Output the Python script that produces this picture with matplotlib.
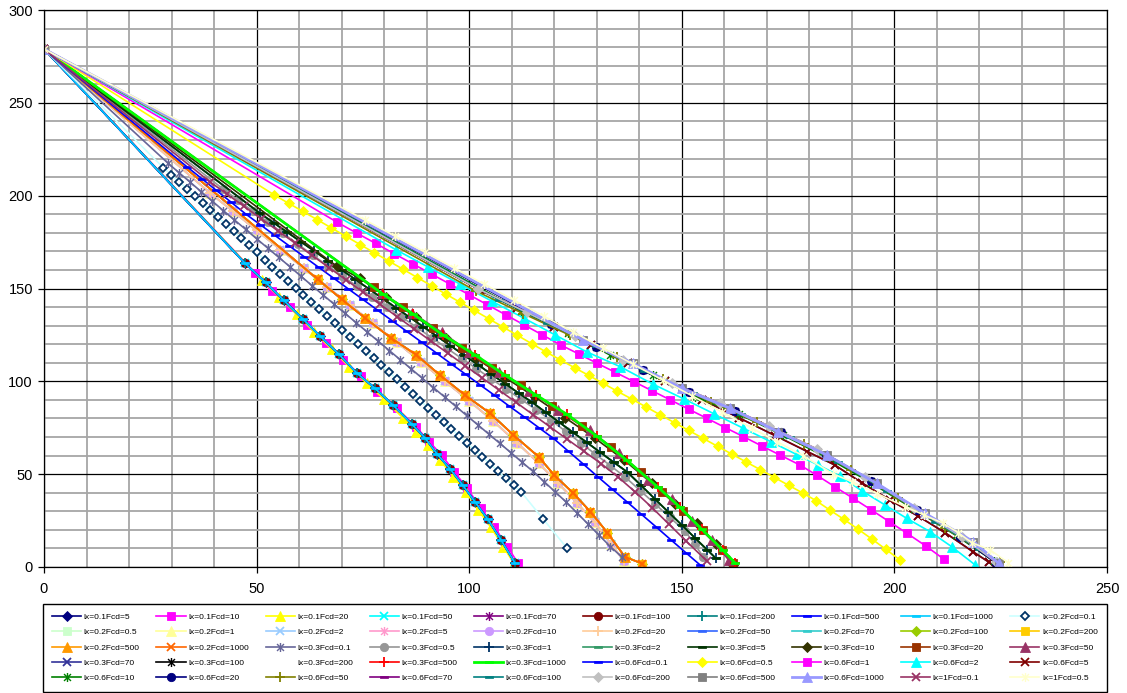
import matplotlib
matplotlib.use("Agg")
import matplotlib.pyplot as plt
from matplotlib.path import Path
from matplotlib.ticker import MultipleLocator

plt.rcParams['font.family'] = ['Liberation Sans', 'DejaVu Sans']

# ---- point chains (x, y) ----
# lx=0.1 family, all end near x=111
lx01_x = [0, 47.3, 52.1, 56.4, 60.8, 65.0, 69.4, 73.5, 77.8, 82.1, 86.5, 89.6, 92.4, 95.5, 98.5, 101.4, 104.4, 107.5, 110.8]
lx01_y = [279, 163.5, 153.3, 143.6, 133.8, 124.2, 114.5, 104.6, 96.3, 87.2, 77.0, 69.5, 61.0, 52.8, 44.0, 35.0, 25.6, 14.5, 2.0]
lx01sq_x = [0, 49.6, 53.6, 57.9, 61.9, 66.3, 70.4, 74.6, 78.4, 83.0, 87.5, 90.6, 93.5, 96.5, 99.5, 102.8, 105.9, 109.0, 111.5]
lx01sq_y = [279, 158.5, 148.8, 139.8, 130.3, 120.5, 111.5, 103.0, 94.0, 85.5, 75.5, 67.5, 60.3, 51.3, 42.4, 31.6, 21.7, 10.9, 2.0]
lx01tr_x = [0, 51.2, 55.3, 59.4, 63.5, 67.7, 71.8, 75.9, 80.0, 84.5, 87.6, 90.4, 93.1, 96.3, 99.2, 102.1, 105.1, 108.0, 110.5]
lx01tr_y = [279, 154.5, 145.6, 136.1, 126.7, 117.2, 107.9, 98.9, 90.3, 80.1, 72.9, 65.7, 57.6, 48.6, 40.5, 30.7, 21.4, 11.0, 2.0]

# lx=0.2 Fcd=0.1 (open diamonds)
lx02a_x = [0, 28.1, 29.9, 31.8, 33.6, 35.4, 37.3, 39.1, 40.9, 42.7, 44.6, 46.4, 48.2, 50.1, 51.9, 53.7, 55.6,
           57.4, 59.2, 61.0, 62.9, 64.7, 66.5, 68.4, 70.2, 72.0, 73.9, 75.7, 77.5, 79.3, 81.2, 83.0, 84.8,
           86.7, 88.5, 90.3, 92.2, 94.0, 95.8, 97.6, 99.5, 101.3, 103.1, 105.0, 106.8, 108.6, 110.5, 112.3,
           117.4, 123.0]
lx02a_y = [279, 215.0, 211.2, 207.4, 203.6, 199.8, 196.0, 192.2, 188.4, 184.6, 180.8, 177.0, 173.2, 169.4,
           165.6, 161.8, 158.0, 154.2, 150.4, 146.6, 142.8, 139.0, 135.2, 131.4, 127.6, 123.8, 120.0, 116.2,
           112.4, 108.6, 104.8, 101.0, 97.2, 93.4, 89.6, 85.8, 82.0, 78.2, 74.4, 70.6, 66.8, 63.0, 59.2,
           55.4, 51.6, 47.8, 44.0, 40.2, 25.8, 10.2]

# lx=0.2 family, end near x=136-141
lx02b_x = [0, 39.0, 44.5, 50.0, 55.6, 61.1, 66.6, 72.0, 77.4, 83.0, 88.6, 94.3, 100.0, 105.7, 111.2, 116.3, 121.0, 125.3, 129.5, 133.3, 136.5]
lx02b_y = [279, 201.5, 191.5, 181.3, 171.0, 160.8, 150.9, 141.1, 131.2, 121.0, 110.5, 100.0, 89.5, 78.5, 67.0, 56.0, 45.0, 34.5, 24.0, 12.5, 3.0]
lx02o_x = [0, 64.4, 70.0, 75.6, 81.5, 87.6, 93.1, 99.0, 104.9, 110.4, 116.3, 120.0, 124.5, 128.5, 132.5, 136.6, 140.7]
lx02o_y = [279, 154.9, 144.2, 133.9, 123.5, 114.2, 103.4, 92.6, 82.8, 71.1, 59.4, 49.5, 39.7, 29.8, 18.5, 5.5, 1.8]

# lx=0.3 Fcd=0.1 (asterisks)
lx03a_x = [0, 29.2, 31.8, 34.4, 37.0, 39.6, 42.2, 44.8, 47.4, 50.0, 52.6, 55.2, 57.8, 60.4, 63.0, 65.6, 68.2,
           70.8, 73.4, 76.0, 78.6, 81.2, 83.8, 86.4, 89.0, 91.6, 94.2, 96.8, 99.4, 102.0, 104.6, 107.2, 109.8,
           112.4, 115.0, 117.6, 120.2, 122.8, 125.4, 128.0, 130.6, 133.2, 136.0]
lx03a_y = [279, 217.4, 212.3, 207.2, 202.1, 197.0, 191.9, 186.9, 181.9, 176.8, 171.8, 166.8, 161.8, 156.7,
           151.6, 146.6, 141.6, 136.6, 131.6, 126.6, 121.6, 116.6, 111.6, 106.6, 101.6, 96.6, 91.6, 86.6,
           81.6, 76.6, 71.6, 66.6, 61.6, 56.5, 51.5, 46.0, 40.5, 35.0, 29.0, 23.0, 17.0, 11.0, 5.2]

# lx=0.3 family, end near x=155-162
lx03g_x = [0, 42.2, 45.7, 49.2, 52.7, 56.2, 59.7, 63.2, 66.7, 70.2, 73.7, 77.2, 80.7, 84.2, 87.7, 91.2, 94.7,
           98.2, 101.7, 105.2, 108.7, 112.2, 115.7, 119.2, 122.7, 126.2, 129.7, 133.2, 136.7, 140.2, 143.7,
           147.2, 150.7, 153.0, 155.1]
lx03g_y = [279, 203.4, 197.5, 191.6, 185.7, 179.8, 173.9, 168.0, 162.2, 156.7, 151.1, 145.6, 140.1, 134.5,
           129.0, 123.5, 117.9, 112.4, 106.9, 101.3, 95.8, 90.3, 84.8, 79.1, 73.0, 66.9, 60.7, 54.6, 48.4,
           41.2, 34.0, 26.7, 19.5, 12.5, 5.2]
lx03n_x = [0, 50.8, 54.0, 57.2, 60.4, 63.6, 66.8, 70.0, 73.2, 76.4, 79.6, 82.8, 86.0, 89.2, 92.4, 95.6, 98.8,
           102.0, 105.2, 108.4, 111.6, 114.8, 118.0, 121.2, 124.4, 127.6, 130.8, 134.0, 137.2, 140.4, 143.6,
           146.8, 150.0, 153.2, 156.0, 158.0]
lx03n_y = [279, 190.5, 185.4, 180.3, 175.2, 170.1, 165.0, 160.0, 154.9, 149.8, 144.7, 139.6, 134.5, 129.4,
           124.3, 119.2, 114.1, 109.0, 103.9, 98.8, 93.7, 88.7, 83.3, 77.9, 72.5, 67.2, 61.8, 56.4, 51.1,
           44.0, 36.8, 29.7, 22.6, 15.4, 9.2, 4.7]
lx03d_x = [0, 68.8, 74.3, 80.5, 87.5, 94.5, 101.5, 108.5, 115.5, 122.5, 129.5, 136.5, 143.0, 148.5, 153.5, 158.0, 162.1]
lx03d_y = [279, 162.1, 155.5, 145.5, 134.5, 123.5, 112.5, 102.0, 91.5, 80.5, 69.5, 57.5, 45.0, 34.0, 23.5, 12.5, 1.1]
lx03s_x = [0, 77.5, 84.5, 91.6, 98.2, 105.3, 112.3, 119.4, 126.5, 133.4, 140.4, 145.3, 150.2, 154.9, 159.4, 162.0]
lx03s_y = [279, 150.6, 139.8, 128.9, 117.8, 107.0, 98.0, 86.7, 75.9, 64.8, 51.0, 40.5, 30.3, 19.9, 9.2, 2.0]
lx03t_x = [0, 79.5, 86.5, 93.5, 100.0, 107.0, 114.0, 121.0, 128.3, 135.3, 142.1, 147.6, 152.5, 157.0, 161.0]
lx03t_y = [279, 147.5, 137.0, 126.5, 116.0, 105.0, 95.0, 84.5, 73.8, 61.2, 46.8, 36.4, 24.8, 14.5, 4.0]
lx03r_x = [0, 79.7, 86.9, 93.9, 101.4, 108.4, 115.6, 123.0, 130.0, 137.0, 144.3, 149.6, 154.7, 159.6, 162.6]
lx03r_y = [279, 147.0, 136.1, 124.9, 114.2, 103.4, 92.8, 82.2, 70.5, 57.6, 43.2, 32.1, 20.3, 9.2, 2.0]

# lx=0.6 Fcd=0.1 (blue dashes) and lx=1 Fcd=0.1 (mauve crosses)
lx06a_x = [0, 33.6, 37.1, 40.5, 44.0, 47.4, 50.9, 54.3, 57.7, 61.2, 64.6, 68.1, 71.5, 75.0, 78.4, 81.9, 85.3,
           88.8, 92.2, 95.7, 99.1, 102.6, 106.0, 109.5, 112.9, 116.4, 119.8, 123.3, 126.7, 130.2, 133.6,
           137.1, 140.5, 144.0, 147.4, 150.9, 154.3]
lx06a_y = [279, 215.6, 209.2, 202.9, 196.5, 190.2, 184.3, 178.6, 172.9, 167.1, 161.4, 155.6, 149.9, 144.1,
           138.4, 132.6, 126.9, 121.1, 115.4, 109.5, 103.9, 98.0, 92.4, 86.5, 80.9, 75.0, 69.3, 62.4, 55.7,
           48.7, 42.0, 35.1, 28.4, 21.5, 14.7, 7.8, 1.1]
lx1a_x = [0, 39, 43, 47, 51, 55, 59, 63, 67, 71, 75, 79, 83, 87, 91, 95, 99, 103, 107, 111, 115, 119, 123,
          127, 131, 135, 139, 143, 147, 151, 156]
lx1a_y = [279, 207.5, 200.9, 194.3, 187.7, 181.1, 174.5, 167.9, 161.3, 154.7, 148.1, 141.5, 134.9, 128.3,
          121.7, 115.1, 108.5, 101.9, 95.3, 88.7, 82.1, 75.5, 68.9, 62.3, 55.7, 48.5, 40.5, 32.0, 23.0, 14.0, 3.0]

# lx=0.6 family, end near x=200-227
lx06y_x = [0, 54.2, 57.6, 60.9, 64.3, 67.6, 71.0, 74.4, 77.7, 81.1, 84.4, 87.8, 91.2, 94.5, 97.9, 101.2, 104.6,
           108.0, 111.3, 114.7, 118.0, 121.4, 124.8, 128.1, 131.5, 134.8, 138.2, 141.6, 144.9, 148.3, 151.6,
           155.0, 158.4, 161.7, 165.1, 168.4, 171.8, 175.2, 178.5, 181.6, 184.8, 188.1, 191.5, 194.8, 198.0, 201.3]
lx06y_y = [279, 200.3, 195.8, 191.5, 187.0, 182.6, 178.1, 173.6, 169.2, 164.8, 160.4, 155.9, 151.4, 147.0,
           142.5, 138.2, 133.7, 129.2, 124.8, 120.3, 115.9, 111.6, 107.3, 103.2, 98.9, 94.7, 90.5, 86.2, 82.0,
           77.7, 73.6, 69.3, 65.0, 60.9, 56.6, 52.5, 48.2, 43.9, 39.8, 35.7, 30.7, 25.7, 20.3, 14.9, 9.5, 3.8]
lx06m_x = [0, 69.0, 73.5, 78.0, 82.4, 86.8, 91.2, 95.6, 100.0, 104.3, 108.6, 112.9, 117.2, 121.5, 125.8, 130.1,
           134.4, 138.7, 143.0, 147.3, 151.6, 155.9, 160.2, 164.5, 168.8, 173.1, 177.8, 181.7, 186.0, 190.3,
           194.6, 198.8, 203.0, 207.4, 211.7]
lx06m_y = [279, 185.6, 179.9, 174.3, 168.7, 163.2, 157.7, 152.2, 146.6, 141.2, 135.8, 130.4, 125.0, 119.6,
           114.7, 109.7, 104.8, 99.9, 94.9, 90.0, 85.0, 80.1, 75.1, 70.2, 65.2, 60.3, 54.9, 49.5, 43.2, 37.0,
           30.7, 24.4, 18.1, 11.3, 4.1]
lx06c_x = [0, 82.9, 90.4, 97.8, 105.3, 112.8, 120.2, 127.6, 135.5, 143.2, 150.5, 157.5, 164.5, 171.0, 177.0,
           182.1, 187.2, 192.3, 197.8, 202.9, 208.4, 213.5, 219.0]
lx06c_y = [279, 170.7, 161.5, 152.4, 143.2, 134.1, 125.0, 115.9, 107.9, 98.5, 90.5, 82.6, 74.7, 67.4, 60.6,
           54.9, 49.0, 41.1, 33.4, 26.2, 19.0, 10.9, 1.1]
lx06x_x = [0, 102.5, 111.2, 120.0, 128.7, 137.4, 146.1, 154.8, 163.5, 172.0, 179.5, 186.0, 192.3, 199.0, 205.5, 211.9, 218.5, 222.3]
lx06x_y = [279, 149.2, 139.4, 129.4, 119.6, 109.8, 100.0, 90.1, 80.3, 70.7, 62.2, 54.9, 45.4, 36.0, 27.5, 18.5, 8.2, 2.5]
lx06g_x = [0, 112.3, 123.3, 133.1, 143.3, 153.1, 163.5, 173.8, 184.1, 194.4, 204.7, 214.5, 223.5]
lx06g_y = [279, 137.9, 126.2, 114.2, 103.4, 91.7, 82.2, 71.0, 59.0, 45.5, 31.0, 17.0, 3.0]
lx06n_x = [0, 119.2, 129.9, 140.8, 151.7, 162.5, 173.3, 184.0, 194.6, 205.2, 215.5, 223.9]
lx06n_y = [279, 130.9, 118.6, 106.1, 94.4, 84.0, 72.5, 60.5, 46.5, 30.7, 16.0, 2.3]
lx06o_x = [0, 101.7, 112.7, 123.7, 134.7, 145.6, 156.8, 167.8, 178.8, 189.8, 200.8, 211.8, 224.8]
lx06o_y = [279, 148.5, 136.5, 124.8, 113.2, 101.2, 89.0, 78.0, 66.0, 52.5, 37.0, 21.0, 2.5]
lx06p_x = [0, 102.1, 113.5, 124.9, 136.2, 147.6, 159.0, 170.4, 181.8, 193.2, 204.6, 216.0, 224.0]
lx06p_y = [279, 149.8, 137.2, 124.4, 111.5, 98.9, 88.2, 76.0, 63.5, 48.5, 32.0, 16.0, 2.5]
lx06t_x = [0, 107.0, 118.4, 129.8, 141.2, 152.6, 164.0, 175.4, 186.8, 198.2, 209.6, 220.0, 224.3]
lx06t_y = [279, 144.0, 131.5, 118.8, 105.5, 93.5, 82.5, 70.0, 56.5, 41.0, 24.5, 9.5, 2.5]
lx06l_x = [0, 126.8, 138.5, 150.0, 161.3, 172.7, 184.1, 195.8, 207.2, 218.6, 224.5]
lx06l_y = [279, 122.2, 109.7, 96.2, 85.5, 72.8, 60.3, 45.1, 28.9, 13.6, 2.0]
lx1b_x = [0, 75.5, 82.5, 89.5, 96.5, 103.5, 110.5, 117.5, 124.5, 131.5, 138.5, 145.5, 152.5, 159.5, 166.5,
          172.5, 178.6, 185.6, 190.0, 196.0, 202.5, 207.0, 211.5, 215.0, 218.2, 222.5, 226.8]
lx1b_y = [279, 186.9, 178.3, 169.7, 161.0, 152.4, 143.8, 135.2, 126.5, 117.9, 109.3, 100.7, 92.1, 83.4, 74.8,
          67.4, 59.8, 50.1, 46.0, 39.5, 32.5, 28.0, 23.5, 18.5, 13.1, 9.2, 2.3]

labels = ['lx=0.1Fcd=5', 'lx=0.1Fcd=10', 'lx=0.1Fcd=20', 'lx=0.1Fcd=50', 'lx=0.1Fcd=70',
          'lx=0.1Fcd=100', 'lx=0.1Fcd=200', 'lx=0.1Fcd=500', 'lx=0.1Fcd=1000', 'lx=0.2Fcd=0.1',
          'lx=0.2Fcd=0.5', 'lx=0.2Fcd=1', 'lx=0.2Fcd=2', 'lx=0.2Fcd=5', 'lx=0.2Fcd=10',
          'lx=0.2Fcd=20', 'lx=0.2Fcd=50', 'lx=0.2Fcd=70', 'lx=0.2Fcd=100', 'lx=0.2Fcd=200',
          'lx=0.2Fcd=500', 'lx=0.2Fcd=1000', 'lx=0.3Fcd=0.1', 'lx=0.3Fcd=0.5', 'lx=0.3Fcd=1',
          'lx=0.3Fcd=2', 'lx=0.3Fcd=5', 'lx=0.3Fcd=10', 'lx=0.3Fcd=20', 'lx=0.3Fcd=50',
          'lx=0.3Fcd=70', 'lx=0.3Fcd=100', 'lx=0.3Fcd=200', 'lx=0.3Fcd=500', 'lx=0.3Fcd=1000',
          'lx=0.6Fcd=0.1', 'lx=0.6Fcd=0.5', 'lx=0.6Fcd=1', 'lx=0.6Fcd=2', 'lx=0.6Fcd=5',
          'lx=0.6Fcd=10', 'lx=0.6Fcd=20', 'lx=0.6Fcd=50', 'lx=0.6Fcd=70', 'lx=0.6Fcd=100',
          'lx=0.6Fcd=200', 'lx=0.6Fcd=500', 'lx=0.6Fcd=1000', 'lx=1Fcd=0.1', 'lx=1Fcd=0.5']

chains = [
    (lx01_x, lx01_y), (lx01sq_x, lx01sq_y), (lx01tr_x, lx01tr_y), (lx01_x, lx01_y), (lx01_x, lx01_y),
    (lx01_x, lx01_y), (lx01_x, lx01_y), (lx01_x, lx01_y), (lx01_x, lx01_y), (lx02a_x, lx02a_y),
    (lx02b_x, lx02b_y), (lx02b_x, lx02b_y), (lx02b_x, lx02b_y), (lx02b_x, lx02b_y), (lx02b_x, lx02b_y),
    (lx02b_x, lx02b_y), (lx02o_x, lx02o_y), (lx02o_x, lx02o_y), (lx02o_x, lx02o_y), (lx02o_x, lx02o_y),
    (lx02o_x, lx02o_y), (lx02o_x, lx02o_y), (lx03a_x, lx03a_y), (lx03g_x, lx03g_y), (lx03n_x, lx03n_y),
    (lx03n_x, lx03n_y), (lx03n_x, lx03n_y), (lx03d_x, lx03d_y), (lx03s_x, lx03s_y), (lx03t_x, lx03t_y),
    (lx06x_x, lx06x_y), (lx06n_x, lx06n_y), (lx03d_x, lx03d_y), (lx03r_x, lx03r_y), (lx03r_x, lx03r_y),
    (lx06a_x, lx06a_y), (lx06y_x, lx06y_y), (lx06m_x, lx06m_y), (lx06c_x, lx06c_y), (lx06x_x, lx06x_y),
    (lx06g_x, lx06g_y), (lx06n_x, lx06n_y), (lx06o_x, lx06o_y), (lx06p_x, lx06p_y), (lx06t_x, lx06t_y),
    (lx06p_x, lx06p_y), (lx06l_x, lx06l_y), (lx06l_x, lx06l_y), (lx1a_x, lx1a_y), (lx1b_x, lx1b_y),
]

# ---- styles ----
star = Path([(-1, -1), (1, 1), (-1, 1), (1, -1), (0, -1.3), (0, 1.3)],
            [Path.MOVETO, Path.LINETO, Path.MOVETO, Path.LINETO, Path.MOVETO, Path.LINETO])
dash = Path([(-1, -0.35), (1, -0.35), (1, 0.35), (-1, 0.35), (-1, -0.35)],
            [Path.MOVETO, Path.LINETO, Path.LINETO, Path.LINETO, Path.CLOSEPOLY])

colors = ['#000080', '#ff00ff', '#ffff00', '#00ffff', '#800080', '#800000', '#008080', '#0000ff', '#00ccff', '#ccffff',
          '#ccffcc', '#ffff99', '#99ccff', '#ff99cc', '#cc99ff', '#ffcc99', '#3366ff', '#33cccc', '#99cc00', '#ffcc00',
          '#ff9900', '#ff6600', '#666699', '#969696', '#003366', '#339966', '#003300', '#333300', '#993300', '#993366',
          '#333399', '#000000', '#000000', '#ff0000', '#00ff00', '#0000ff', '#ffff00', '#ff00ff', '#00ffff', '#800000',
          '#008000', '#000080', '#808000', '#800080', '#008080', '#c0c0c0', '#808080', '#9999ff', '#993366', '#ffffcc']
markers = ['D', 's', '^', 'x', star, 'o', '+', dash, dash, 'D',
           's', '^', 'x', star, 'o', '+', dash, dash, 'D', 's',
           '^', 'x', star, 'o', '+', dash, dash, 'D', 's', '^',
           'x', star, None, '+', dash, dash, 'D', 's', '^', 'x',
           star, 'o', '+', dash, dash, 'D', 's', '^', 'x', star]
msizes = {'D': 5.0, 's': 5.5, '^': 6.5, 'x': 5.5, 'o': 6.0, '+': 7.0}

fig = plt.figure(figsize=(11.27, 6.93), dpi=100)
ax = fig.add_axes([44 / 1127, 126 / 693, 1063 / 1127, 557 / 693])

handles = []
for i, (lab, (xs, ys)) in enumerate(zip(labels, chains)):
    m = markers[i]
    c = colors[i]
    kw = dict(color=c, lw=1.2, label=lab, zorder=2 + i * 0.01)
    if m is None:
        kw.update(ls='none', marker='none')
    elif m is star:
        kw.update(marker=m, ms=6.5, mew=1.0, mec=c, mfc='none')
    elif m is dash:
        kw.update(marker=m, ms=6.0, mew=0.5, mec=c, mfc=c)
    elif m in ('x', '+'):
        kw.update(marker=m, ms=msizes[m], mew=1.3, mec=c)
    else:
        kw.update(marker=m, ms=msizes[m], mew=0.6, mec=c, mfc=c)
    if lab == 'lx=0.2Fcd=0.1':
        kw.update(marker='D', ms=4.5, mew=1.3, mec='#003366', mfc='white')
    if lab in ('lx=0.6Fcd=1000', 'lx=0.3Fcd=1000'):
        kw['lw'] = 2.0
    ln, = ax.plot(xs, ys, **kw)
    handles.append(ln)

ax.set_xlim(0, 250)
ax.set_ylim(0, 300)
ax.xaxis.set_major_locator(MultipleLocator(50))
ax.yaxis.set_major_locator(MultipleLocator(50))
ax.xaxis.set_minor_locator(MultipleLocator(10))
ax.yaxis.set_minor_locator(MultipleLocator(10))
ax.grid(which='minor', color='#a6a6a6', lw=1.3)
ax.grid(which='major', color='black', lw=0.9)
ax.set_axisbelow(True)
ax.tick_params(which='minor', length=0)
ax.tick_params(which='major', direction='out', length=4, width=0.9, labelsize=10.5, colors='black')
ax.tick_params(axis='x', pad=7)
ax.tick_params(axis='y', pad=4)
for sp in ax.spines.values():
    sp.set_color('black')
    sp.set_linewidth(0.9)

# legend is filled row by row in the original
ncol, nrow = 10, 5
order = [r * ncol + c for c in range(ncol) for r in range(nrow)]
leg = fig.legend([handles[k] for k in order], [labels[k] for k in order],
                 loc='upper center', ncol=ncol, mode='expand',
                 bbox_to_anchor=(43 / 1127, 0, 1064 / 1127, 89 / 693),
                 bbox_transform=fig.transFigure, fontsize=6.0, handlelength=3.5,
                 handletextpad=0.3, labelspacing=0.9, borderaxespad=0.0,
                 borderpad=1.1, numpoints=1, fancybox=False, framealpha=1,
                 edgecolor='black')
leg.get_frame().set_linewidth(1.0)

fig.savefig('out.png', dpi=100)
